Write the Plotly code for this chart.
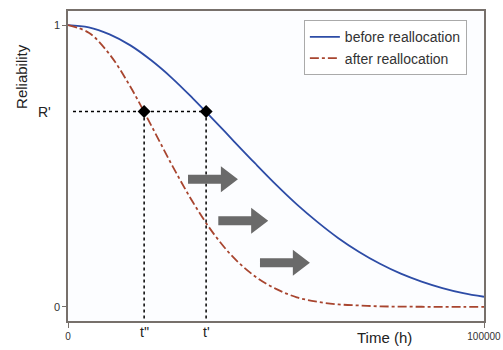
import plotly.graph_objects as go

# ---- data ----
time_h = [0, 5000, 10000, 15000, 20000, 25000, 30000, 35000, 40000, 45000, 50000,
          55000, 60000, 65000, 70000, 75000, 80000, 85000, 90000, 95000, 100000]
rel_before = [1.0, 0.992, 0.967, 0.928, 0.875, 0.812, 0.740, 0.664, 0.586, 0.509, 0.434,
              0.364, 0.301, 0.244, 0.195, 0.153, 0.118, 0.090, 0.067, 0.049, 0.036]
rel_after = [1.0, 0.973, 0.896, 0.781, 0.644, 0.503, 0.372, 0.260, 0.172, 0.108, 0.064,
             0.034, 0.018, 0.009, 0.005, 0.002, 0.001, 0.0005, 0.0002, 0.0, 0.0]

R_prime = 0.693
t_second = 18300   # t''
t_first = 33200    # t'

arrow_t = [28850, 36130, 46150]
arrow_R = [0.453, 0.306, 0.157]

y_range = [-0.05, 1.05]
x_range = [0, 100000]

fig = go.Figure()

fig.add_trace(go.Scatter(x=time_h, y=rel_before, mode="lines", name="before reallocation",
                         line=dict(color="#2d4ca6", width=1.8, shape="spline")))
fig.add_trace(go.Scatter(x=time_h, y=rel_after, mode="lines", name="after reallocation",
                         line=dict(color="#a8452f", width=1.8, dash="dashdot", shape="spline")))

# dotted guide lines
fig.add_trace(go.Scatter(x=[1200, t_first], y=[R_prime, R_prime], mode="lines", showlegend=False,
                         line=dict(color="black", width=1.5, dash="dot"), hoverinfo="skip"))
for tv in [t_second, t_first]:
    fig.add_trace(go.Scatter(x=[tv, tv], y=[R_prime, y_range[0]], mode="lines", showlegend=False,
                             line=dict(color="black", width=1.5, dash="dot"), hoverinfo="skip"))
fig.add_trace(go.Scatter(x=[t_second, t_first], y=[R_prime, R_prime], mode="markers", showlegend=False,
                         marker=dict(symbol="diamond", size=10, color="black")))

# arrows
L = 12000
shaft = 7900
sh = 0.016
hh = 0.046
for xa, ya in zip(arrow_t, arrow_R):
    p = (f"M {xa},{ya - sh} L {xa + shaft},{ya - sh} L {xa + shaft},{ya - hh} "
         f"L {xa + L},{ya} L {xa + shaft},{ya + hh} L {xa + shaft},{ya + sh} L {xa},{ya + sh} Z")
    fig.add_shape(type="path", path=p, xref="x", yref="y", fillcolor="#6a6a6a",
                  line=dict(width=0))

font_main = "Liberation Sans, Arial, sans-serif"

ann = [
    dict(text="R'", x=0, xref="paper", xanchor="right", xshift=-15, y=R_prime, yref="y",
         showarrow=False, font=dict(size=14, color="#222")),
    dict(text="t''", x=t_second, xref="x", y=0, yref="paper", yanchor="top", yshift=-1,
         showarrow=False, font=dict(size=14, color="#222")),
    dict(text="t'", x=t_first, xref="x", y=0, yref="paper", yanchor="top", yshift=-1,
         showarrow=False, font=dict(size=14, color="#222")),
    dict(text="Time (h)", x=76000, xref="x", y=0, yref="paper", yanchor="top", yshift=-6,
         showarrow=False, font=dict(size=15, color="#222")),
    dict(text="Reliability", x=-0.112, xref="paper", xanchor="center", y=0.90, yref="paper",
         showarrow=False, textangle=-90, font=dict(size=15, color="#222")),
]
fig.update_layout(annotations=ann)

fig.update_layout(
    width=503, height=350,
    margin=dict(l=68, r=19, t=11, b=29, autoexpand=False),
    paper_bgcolor="white",
    plot_bgcolor="#fcfdff",
    font=dict(family=font_main, color="#222"),
    legend=dict(x=0.567, y=0.97, xanchor="left", yanchor="top",
                bgcolor="white", bordercolor="#aaaaaa", borderwidth=1,
                font=dict(size=14, color="#333"), tracegroupgap=0),
    showlegend=True,
)
fig.update_xaxes(range=x_range, tickvals=[0, 100000], ticktext=["0", "100000"], automargin=False,
                 showgrid=False, zeroline=False, showline=True, linecolor="#77706b", linewidth=1.5,
                 mirror=True, ticks="outside", ticklen=5, tickcolor="#77706b",
                 tickfont=dict(size=10, color="#333"))
fig.update_yaxes(range=y_range, tickvals=[0, 1], ticktext=["0", "1"], automargin=False,
                 showgrid=False, zeroline=False, showline=True, linecolor="#77706b", linewidth=1.5,
                 mirror=True, ticks="outside", ticklen=4, tickcolor="#77706b",
                 tickfont=dict(size=11, color="#333"))

fig.write_html("out.html")
